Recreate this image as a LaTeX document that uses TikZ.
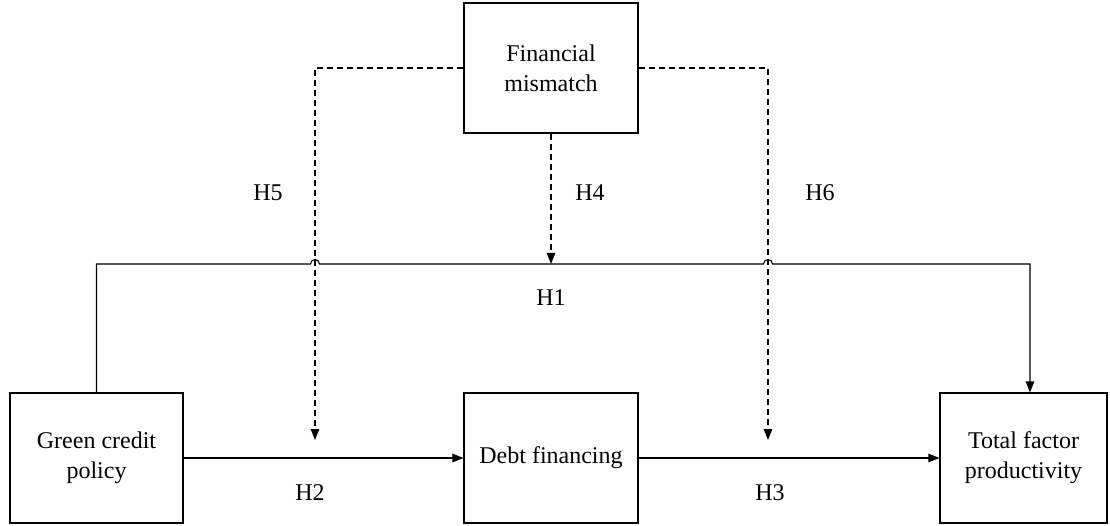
\documentclass[tikz,border=0pt]{standalone}
\usepackage{fontspec}
\setmainfont{Liberation Serif}
\usetikzlibrary{arrows.meta}
\tikzset{
  box/.style={draw=black,line width=1.1pt,rectangle,align=center,font=\fontsize{24}{30}\selectfont,minimum height=130pt,inner sep=0pt},
  hlabel/.style={font=\fontsize{24}{29}\selectfont,text=black},
  link/.style={draw=black,line width=1.1pt,-{Triangle[length=11pt,width=8.5pt]}},
  dlink/.style={link,dash pattern=on 6pt off 4pt}
}
\begin{document}
\begin{tikzpicture}[x=1pt,y=-1pt]
\useasboundingbox (0,0) rectangle (1110,526);
\node[box,minimum width=173pt] (gcp) at (96.5,458) {Green credit\\policy};
\node[box,minimum width=174pt] (debt) at (551,458) {Debt financing};
\node[box,minimum width=167pt] (tfp) at (1023.5,458) {Total factor\\productivity};
\node[box,minimum width=174pt] (mismatch) at (551,68) {Financial\\mismatch};

\coordinate (h1end) at (1030,264);
\coordinate (h2tip) at (315,440);
\coordinate (h3tip) at (768,440);
\coordinate (h4tip) at (551,264);

\draw[link] (gcp.north) -- (96.5,264) -- (310.5,264) arc[start angle=180,end angle=0,radius=4.5pt]
  -- (763.5,264) arc[start angle=180,end angle=0,radius=4.5pt] -- (h1end) -- (h1end |- tfp.north);
\draw[link] (gcp.east) -- (debt.west);
\draw[link] (debt.east) -- (tfp.west);

\draw[dlink] (mismatch.west) -| (h2tip);
\draw[dlink] (mismatch.east) -| (h3tip);
\draw[dlink] (mismatch.south) -- (h4tip);

\node[hlabel] (lblH1) at (551,298) {H1};
\node[hlabel] (lblH2) at (310,493) {H2};
\node[hlabel] (lblH3) at (770,493) {H3};
\node[hlabel] (lblH4) at (590,193) {H4};
\node[hlabel] (lblH5) at (268,193) {H5};
\node[hlabel] (lblH6) at (820,193) {H6};
\end{tikzpicture}
\end{document}
